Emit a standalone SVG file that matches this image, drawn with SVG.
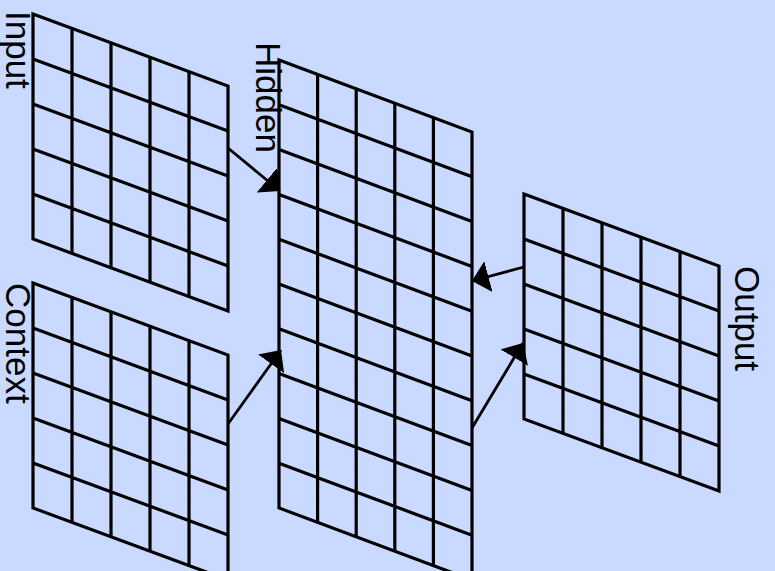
<svg xmlns="http://www.w3.org/2000/svg" xmlns:xlink="http://www.w3.org/1999/xlink" width="775" height="571" viewBox="0 0 775 571">
<style>
.grid{fill:none;stroke:#000;stroke-width:3.2;stroke-linejoin:miter}
.lbl{font-family:"Liberation Sans",Arial,sans-serif;font-size:35px;fill:#000}
.conn{fill:none;stroke:#000;stroke-width:2.8}
</style>
<defs>
<marker id="ah" markerUnits="userSpaceOnUse" viewBox="0 -16 17 32" refX="17" refY="0" markerWidth="17" markerHeight="32" orient="auto">
<path d="M0 -16 L17 0 L0 16 Z" fill="#000"/>
</marker>
<g id="grid5">
<path class="grid" d="M0 0 L195 72 V297 L0 225 Z"/>
<path class="grid" d="M39 14.4V239.4 M78 28.8V253.8 M117 43.2V268.2 M156 57.6V282.6 M0 45L195 117 M0 90L195 162 M0 135L195 207 M0 180L195 252"/>
</g>
</defs>
<rect width="775" height="571" fill="#C9D9FF"/>
<g id="input">
<use xlink:href="#grid5" transform="translate(33,14)"/>
<text class="lbl" transform="translate(6,11) rotate(90)">Input</text>
</g>
<g id="context">
<use xlink:href="#grid5" transform="translate(33,283)"/>
<text class="lbl" transform="translate(6,283) rotate(90)">Context</text>
</g>
<g id="hidden">
<g transform="translate(279,60)">
<path class="grid" d="M0 0 L193 72 V520 L0 448 Z"/>
<path class="grid" d="M38.6 14.4V462.4 M77.2 28.8V476.8 M115.8 43.2V491.2 M154.4 57.6V505.6 M0 44.8L193 116.8 M0 89.6L193 161.6 M0 134.4L193 206.4 M0 179.2L193 251.2 M0 224L193 296 M0 268.8L193 340.8 M0 313.6L193 385.6 M0 358.4L193 430.4 M0 403.2L193 475.2"/>
</g>
<text class="lbl" transform="translate(256,42) rotate(90)">Hidden</text>
</g>
<g id="output">
<use xlink:href="#grid5" transform="translate(524,194)"/>
<text class="lbl" transform="translate(735,266) rotate(90)">Output</text>
</g>
<g id="connectors">
<path class="conn" d="M228 148 L280 191" marker-end="url(#ah)"/>
<path class="conn" d="M228 424 L281 350" marker-end="url(#ah)"/>
<path class="conn" d="M472 428 L523 343" marker-end="url(#ah)"/>
<path class="conn" d="M524 267 L472 281" marker-end="url(#ah)"/>
</g>
</svg>
